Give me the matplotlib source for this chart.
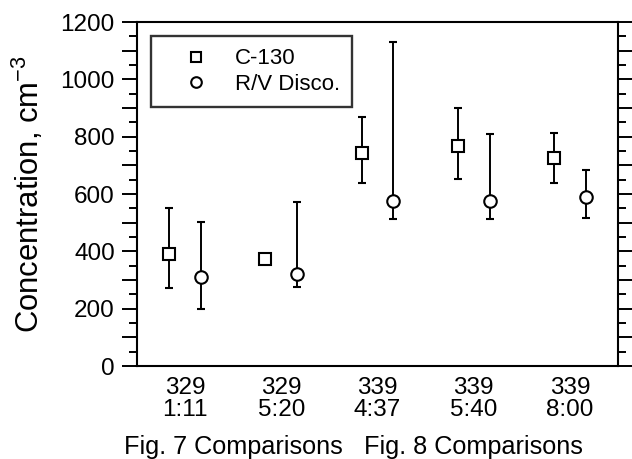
import matplotlib
matplotlib.use("Agg")
import matplotlib.pyplot as plt
import numpy as np
from matplotlib.ticker import MultipleLocator, FuncFormatter
from matplotlib.transforms import blended_transform_factory

# =============================================================================
# Data
# =============================================================================

GROUP_LABELS = ["329\n1:11", "329\n5:20", "339\n4:37", "339\n5:40", "339\n8:00"]

C130_MID = [390, 372, 742, 767, 724]
C130_LOW = [273, np.nan, 637, 652, 637]
C130_HIGH = [551, np.nan, 867, 901, 814]

DISCO_MID = [309, 321, 575, 575, 590]
DISCO_LOW = [199, 277, 513, 513, 515]
DISCO_HIGH = [503, 571, 1129, 808, 684]

FIG_LABELS = ["Fig. 7 Comparisons", "Fig. 8 Comparisons"]
FIG_LABEL_POS = [1.5, 4.0]

OFFSET = 0.165


def draw_series(ax, x, mid, low, high, marker, size, label):
    mid = np.asarray(mid, dtype=float)
    yerr = np.vstack([mid - np.asarray(low, dtype=float),
                      np.asarray(high, dtype=float) - mid])
    ax.errorbar(x, mid, yerr=yerr, fmt="none", ecolor="black",
                elinewidth=1.4, capsize=3, capthick=1.5, zorder=2)
    ax.plot(x, mid, linestyle="none", marker=marker, markersize=size,
            markerfacecolor="white", markeredgecolor="black",
            markeredgewidth=1.5, label=label, zorder=3)


def main():
    plt.rcParams.update({
        "font.family": ["Liberation Sans", "DejaVu Sans"],
        "axes.linewidth": 1.5,
        "mathtext.fontset": "custom",
        "mathtext.rm": "Liberation Sans",
    })

    fig = plt.figure(figsize=(6.32, 4.59), dpi=100)
    ax = fig.add_axes([0.2168, 0.2026, 0.7612, 0.7494])

    xpos = np.arange(1, len(GROUP_LABELS) + 1)
    draw_series(ax, xpos - OFFSET, C130_MID, C130_LOW, C130_HIGH, "s", 8.2, "C-130")
    draw_series(ax, xpos + OFFSET, DISCO_MID, DISCO_LOW, DISCO_HIGH, "o", 9, "R/V Disco.")

    ax.set_xlim(0.5, 5.5)
    ax.set_ylim(0, 1200)

    ax.set_xticks(xpos)
    ax.set_xticklabels(GROUP_LABELS)
    for lbl in ax.get_xticklabels():
        lbl.set_linespacing(0.98)
    ax.tick_params(axis="x", length=0, pad=8, labelsize=17.5)

    ax.yaxis.set_major_locator(MultipleLocator(100))
    ax.yaxis.set_minor_locator(MultipleLocator(50))
    ax.yaxis.set_major_formatter(
        FuncFormatter(lambda v, p: f"{int(v)}" if int(round(v)) % 200 == 0 else ""))
    ax.tick_params(axis="y", which="major", direction="out", length=11,
                   width=1.4, labelsize=17.5, pad=5, right=True)
    ax.tick_params(axis="y", which="minor", direction="out", length=5.5,
                   width=1.4, right=True)

    ax.set_ylabel("Concentration, cm$^{\\mathrm{-3}}$", fontsize=22.3)
    ax.yaxis.set_label_coords(-0.19, 0.5)

    trans = blended_transform_factory(ax.transData, ax.transAxes)
    for text, xp in zip(FIG_LABELS, FIG_LABEL_POS):
        ax.text(xp, -0.256, text, transform=trans, ha="center", va="baseline",
                fontsize=18.2)

    leg = ax.legend(loc="upper left", bbox_to_anchor=(0.029, 0.959),
                    fontsize=16, frameon=True, fancybox=False,
                    edgecolor="black", handlelength=2.95, handletextpad=0.28,
                    borderpad=0.55, labelspacing=0.22, borderaxespad=0,
                    markerscale=0.85)
    leg.get_frame().set_linewidth(1.7)

    fig.savefig("out.png", dpi=100)
    plt.close(fig)


if __name__ == "__main__":
    main()
